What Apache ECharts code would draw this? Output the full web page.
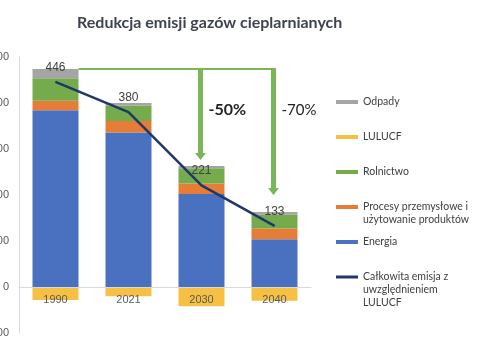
<!DOCTYPE html>
<html>
<head>
<meta charset="utf-8">
<script src="https://cdn.jsdelivr.net/npm/echarts@6/dist/echarts.min.js"></script>
<style>html,body{margin:0;padding:0;background:#fff}#c{width:485px;height:360px}</style>
</head>
<body>
<div id="c"></div>
<script>
const categories = ['1990', '2021', '2030', '2040'];
const energia = [384, 336, 202, 104];
const procesy = [21, 25, 23, 23];
const rolnictwo = [49, 33, 33, 30];
const odpady = [20, 6, 5, 6];
const lulucf = [-28, -20, -42, -30];
const netTotal = [446, 380, 221, 133];
const yTicks = [-100, 0, 100, 200, 300, 400, 500];
const reductionCats = ['2030', '2040'];
const reductionLabels = ['-50%', '-70%'];
const arrowTips = [276, 200];

const C = {
  odpady: '#a5a5a5', lulucf: '#f6c143', rolnictwo: '#75ab4d',
  procesy: '#e67d37', energia: '#4a70c0', line: '#1f3769', arrow: '#7ab55a'
};

const chart = echarts.init(document.getElementById('c'));
const barW = '63%';
const LH = 13;
const legendFont = { fontFamily: 'Lato', fontSize: 10.5, color: '#404040', lineHeight: LH };
function lg(name, iconMid, h) {
  const r = name.split('\n').length;
  const boxH = (2 * r - 1) * LH;
  return {
    data: [name],
    formatter: n => '\n'.repeat(r - 1) + n,
    left: 336, top: iconMid - boxH / 2, orient: 'vertical',
    itemWidth: 22, itemHeight: h, icon: 'rect', padding: 0,
    textStyle: legendFont
  };
}
const option = {
  animation: false,
  title: {
    text: 'Redukcja emisji gazów cieplarnianych', left: 72, top: 10,
    textStyle: { fontFamily: 'Lato', fontWeight: 'bold', fontSize: 16, color: '#3e4350' }
  },
  legend: [
    lg('Odpady', 102, 4),
    lg('LULUCF', 137, 4),
    lg('Rolnictwo', 172, 4),
    lg('Procesy przemysłowe i\nużytowanie produktów', 207, 4),
    lg('Energia', 242, 4),
    lg('Całkowita emisja z\nuwzględnieniem\nLULUCF', 277, 3)
  ],
  grid: { left: 19, top: 57, width: 292, height: 276, containLabel: false, outerBoundsMode: 'none' },
  xAxis: {
    type: 'category', data: categories, z: 10,
    axisLine: { onZero: false, lineStyle: { color: '#d9d9d9' } }, axisTick: { show: false },
    axisLabel: { margin: 7, fontFamily: 'Liberation Sans', fontSize: 11, color: '#595959' }
  },
  yAxis: {
    type: 'value', min: yTicks[0], max: yTicks[yTicks.length - 1], interval: 100,
    axisLine: { show: true, lineStyle: { color: '#d9d9d9' } }, axisTick: { show: false },
    splitLine: { show: false },
    axisLabel: { margin: 10, fontFamily: 'Liberation Sans', fontSize: 11, color: '#595959' }
  },
  series: [
    { name: 'Energia', type: 'bar', stack: 's', barWidth: barW, data: energia, itemStyle: { color: C.energia } },
    { name: 'Procesy przemysłowe i\nużytowanie produktów', type: 'bar', stack: 's', barWidth: barW, data: procesy, itemStyle: { color: C.procesy } },
    { name: 'Rolnictwo', type: 'bar', stack: 's', barWidth: barW, data: rolnictwo, itemStyle: { color: C.rolnictwo } },
    { name: 'Odpady', type: 'bar', stack: 's', barWidth: barW, data: odpady, itemStyle: { color: C.odpady } },
    { name: 'LULUCF', type: 'bar', stack: 's', barWidth: barW, data: lulucf, itemStyle: { color: C.lulucf } },
    { name: 'Całkowita emisja z\nuwzględnieniem\nLULUCF', type: 'line', data: netTotal, z: 5,
      symbol: 'circle', symbolSize: 1, showSymbol: true, color: C.line,
      itemStyle: { color: C.line }, lineStyle: { color: C.line, width: 2.5 },
      label: { show: true, position: 'top', distance: 8, fontFamily: 'Liberation Sans', fontSize: 12, color: '#404040' } }
  ]
};
chart.setOption(option);

// move the category axis up to the zero line (labels included)
const zeroY = chart.convertToPixel({ yAxisIndex: 0 }, 0);
const gridBottom = chart.convertToPixel({ yAxisIndex: 0 }, yTicks[0]);
chart.setOption({ xAxis: { offset: -(gridBottom - zeroY) } });

// annotation arrows from the 1990 stack top
const top1990 = energia[0] + procesy[0] + rolnictwo[0] + odpady[0];
const p0 = chart.convertToPixel({ gridIndex: 0 }, [categories[0], top1990]);
const band = 292 / categories.length;
const startX = p0[0] + band * 0.63 / 2;
const graphics = [];
let lastX = startX;
reductionCats.forEach((cat, i) => {
  const pt = chart.convertToPixel({ gridIndex: 0 }, [cat, arrowTips[i]]);
  const x = pt[0] - 1, tip = pt[1], yTop = p0[1];
  lastX = Math.max(lastX, x + 2.5);
  graphics.push({ type: 'rect', shape: { x: x - 2.5, y: yTop, width: 5, height: tip - 7 - yTop }, style: { fill: C.arrow }, z: 20 });
  graphics.push({ type: 'polygon', shape: { points: [[x - 5.5, tip - 7], [x + 5.5, tip - 7], [x, tip]] }, style: { fill: C.arrow }, z: 20 });
  graphics.push({ type: 'text', x: x + 8, y: 110, style: {
    text: reductionLabels[i], fill: '#222', fontFamily: 'Lato',
    fontWeight: i === 0 ? 'bold' : 'normal', fontSize: i === 0 ? 16 : 15, verticalAlign: 'middle'
  }, z: 20 });
});
graphics.push({ type: 'rect', shape: { x: startX, y: p0[1] - 1, width: lastX - startX, height: 2 }, style: { fill: C.arrow }, z: 20 });
chart.setOption({ graphic: graphics });
</script>
</body>
</html>
